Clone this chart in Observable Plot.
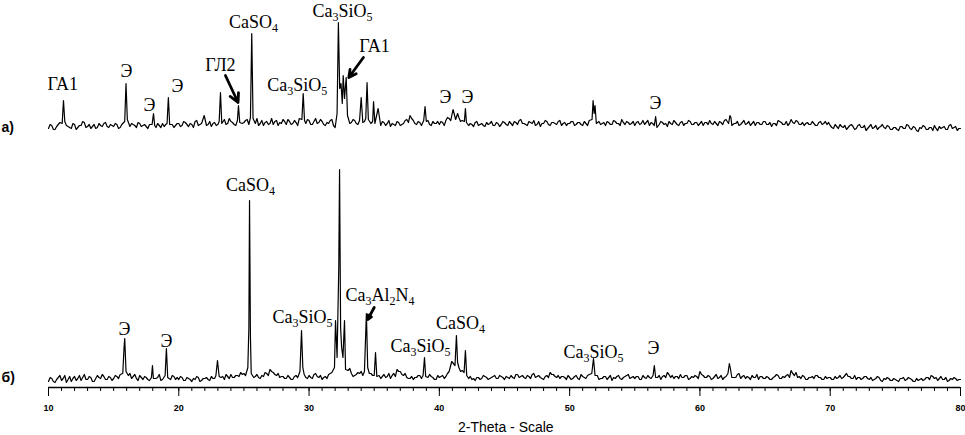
<!DOCTYPE html>
<html><head><meta charset="utf-8">
<script src="https://cdn.jsdelivr.net/npm/d3@7"></script>
<script src="https://cdn.jsdelivr.net/npm/@observablehq/plot@0.6"></script>
<style>body{margin:0;background:#fff;} #chart svg{display:block;}</style>
</head><body><div id="chart"></div>
<script>
// sampling grid of the hand-read background (2θ, degrees):
// "base" values at 10, 10.25, …; "mid" values at 10.125, 10.375, …
const gridStart = 10, gridStep = 0.25;

// pattern а) — background intensity
const baseA = [
  5,8,4,9,6,10,7,5,9,6,8,11,7,5,9,6,8,10,7,9,
  7,9,6,8,12,7,9,6,10,8,7,9,11,6,8,10,9,7,9,8,
  10,8,11,7,9,12,8,10,13,9,7,11,9,12,14,10,12,9,13,8,
  11,14,9,12,15,10,8,12,10,9,13,11,14,9,12,10,11,15,12,10,
  13,9,15,11,12,8,10,14,6,3,12,14,16,11,13,9,14,12,15,10,
  12,9,8,11,10,7,9,12,8,10,14,18,13,9,11,8,10,9,12,10,
  9,11,13,15,18,14,16,13,10,8,9,11,8,10,7,9,12,8,10,9,
  11,8,10,12,9,14,10,8,11,13,9,7,10,12,8,11,9,13,10,8,
  10,12,9,11,8,10,13,11,9,12,10,8,11,9,12,10,14,9,11,10,
  8,12,10,9,13,11,8,10,12,9,7,10,13,9,11,8,10,12,9,11,
  10,8,11,13,9,10,12,9,14,11,13,10,8,11,9,12,10,8,11,9,
  12,9,7,10,13,11,9,8,14,10,12,9,8,11,9,10,8,12,10,9,
  8,5,7,9,6,4,8,7,5,9,6,3,7,5,8,6,9,5,7,4,
  6,3,7,5,8,4,6,2,5,7,4,6,8,3,5,7,4,9,6,3,
  5
];
const midA = [
  9,4,7,11,5,8,6,10,4,8,12,6,9,7,5,10,7,11,6,8,
  10,5,9,7,6,10,8,11,7,9,5,12,8,10,6,7,11,8,6,10,
  7,12,9,10,6,13,9,11,8,12,10,8,13,10,9,15,11,8,11,10,
  13,9,12,10,8,13,11,9,15,12,8,10,12,14,9,13,8,12,10,14,
  9,12,10,14,9,11,13,8,5,9,11,12,10,14,10,13,11,9,13,12,
  9,11,12,8,13,10,8,11,9,13,11,15,10,12,8,11,13,8,10,12,
  12,8,16,13,15,17,12,11,13,10,7,12,9,8,11,10,8,11,7,12,
  9,12,8,11,13,10,9,12,10,8,12,10,13,9,11,10,12,8,11,10,
  12,8,11,9,12,8,11,10,13,9,11,12,9,13,10,8,11,12,9,12,
  11,9,13,11,8,10,12,9,11,10,12,9,11,8,12,10,13,9,11,8,
  12,11,9,10,12,8,11,13,9,12,10,12,9,13,10,8,12,11,9,12,
  9,11,10,8,12,9,12,10,11,13,9,11,10,9,12,8,11,9,12,11,
  6,9,5,7,8,6,9,4,8,6,8,5,9,6,4,7,6,8,4,6,
  4,7,5,9,5,7,3,6,8,4,6,3,5,7,6,4,8,5,7,5
];
// pattern а) — diffraction peaks [2θ, intensity]
const peaksA = [
  [11.05,10],[11.15,33],[11.25,12],
  [15.85,12],[15.95,50],[16.05,14],
  [17.95,9],[18.06,20],[18.15,8],
  [19.1,10],[19.2,36],[19.3,9],
  [21.95,18],
  [23.1,12],[23.2,41],[23.3,10],
  [24.5,13],[24.58,28],[24.68,11],
  [25.5,16],[25.6,100],[25.7,15],
  [29.45,14],[29.55,40],[29.65,13],
  [32.15,20],[32.25,111],[32.35,45],[32.45,50],[32.55,30],[32.62,58],[32.72,35],[32.85,56],[32.95,18],
  [34.0,36],
  [34.35,15],[34.45,51],[34.55,14],
  [34.88,12],[34.95,32],[35.05,10],
  [35.3,25],
  [38.8,13],[38.9,27],[39.0,12],
  [41.05,24],[41.4,20],
  [41.92,12],[42.0,25],[42.08,11],
  [51.72,14],[51.8,33],[51.88,20],[51.95,28],[52.05,10],
  [56.5,8],[56.6,17],[56.7,6],
  [62.2,10],[62.3,18],[62.38,16],[62.45,8]
];

// pattern б) — background intensity
const baseB = [
  6,9,5,10,7,12,8,6,11,9,7,13,8,10,6,12,9,11,8,10,
  9,11,13,16,14,14,11,9,12,8,10,7,11,9,13,8,11,9,12,8,
  8,10,7,9,6,8,10,7,9,8,11,9,12,10,8,11,13,10,12,15,
  14,16,12,10,13,9,11,14,18,15,12,10,11,9,10,8,12,14,11,10,
  12,9,14,10,8,11,13,15,16,20,14,18,17,14,12,15,16,13,11,14,
  12,10,9,13,11,9,14,18,16,12,10,9,8,10,12,11,9,13,10,8,
  10,12,11,16,18,14,20,17,12,9,8,7,10,9,11,8,10,12,9,11,
  8,10,12,9,13,11,10,12,9,14,11,10,8,12,15,13,10,9,11,8,
  10,9,12,8,11,9,13,15,10,8,9,11,10,7,9,12,8,11,13,10,
  9,11,8,10,12,9,11,10,8,12,15,10,9,11,13,10,12,9,10,11,
  16,12,10,11,9,13,10,8,11,9,12,10,14,11,9,10,12,10,8,11,
  9,10,8,11,12,9,10,13,17,12,10,9,11,8,10,9,12,10,8,9,
  10,8,9,12,10,14,11,9,8,10,9,11,8,7,9,10,6,8,9,7,
  8,6,9,7,10,8,6,7,9,8,10,12,9,7,11,8,6,9,10,7,
  8
];
const midB = [
  10,6,8,12,9,5,11,9,7,12,10,8,11,6,9,10,13,8,11,7,
  12,9,15,11,12,9,13,7,10,11,8,12,9,10,7,12,10,8,11,10,
  11,7,10,8,9,11,6,9,10,7,9,12,8,11,13,9,10,12,11,13,
  12,13,15,11,10,12,15,12,16,13,14,11,9,12,8,11,10,12,13,9,
  10,13,11,12,10,9,14,12,18,15,17,14,19,11,13,14,12,15,14,12,
  9,12,11,10,14,12,11,16,13,14,9,11,10,12,9,13,10,11,8,12,
  11,9,14,13,15,19,16,14,10,11,9,10,8,12,10,9,11,9,12,10,
  11,9,10,13,10,12,9,11,13,10,12,9,11,10,13,11,12,11,10,12,
  8,11,9,13,10,12,10,11,12,9,11,8,12,10,11,9,10,12,9,11,
  11,8,12,9,10,11,8,12,11,10,13,12,11,9,10,12,8,11,12,9,
  13,10,12,8,11,9,12,10,9,12,10,13,9,12,11,8,10,13,11,9,
  11,8,10,13,9,11,12,10,14,15,11,12,8,10,11,12,10,8,11,10,
  8,11,10,9,12,11,9,12,10,8,11,9,10,8,11,7,9,10,7,9,
  7,9,10,8,9,6,9,8,7,10,8,11,10,9,8,10,7,8,9,8
];
// pattern б) — diffraction peaks [2θ, intensity]
const peaksB = [
  [15.7,14],[15.8,40],[15.85,49],[15.95,16],
  [17.9,10],[17.98,22],[18.05,9],
  [18.95,12],[19.05,39],[19.15,10],
  [22.85,12],[22.97,27],[23.1,11],
  [25.3,20],[25.38,60],[25.43,187],[25.5,50],[25.56,14],
  [29.3,16],[29.42,57],[29.52,20],
  [31.95,20],[32.03,67],[32.15,30],[32.28,120],[32.34,218],[32.42,60],[32.5,40],[32.6,30],[32.72,67],[32.8,18],
  [34.25,16],[34.4,74],[34.5,20],
  [35.0,12],[35.1,35],[35.2,11],
  [38.75,12],[38.86,30],[38.95,11],
  [40.95,26],
  [41.2,22],[41.31,52],[41.4,25],
  [41.9,15],[42.0,37],[42.1,12],
  [51.7,14],[51.83,29],[51.95,12],
  [56.4,12],[56.5,22],[56.6,10],
  [62.15,14],[62.26,24],[62.35,18],[62.45,10]
];

// vertical offset of pattern а) above pattern б)
const offsetA = 254;

// phase labels: [text, 2θ, intensity]
const labelsA = [
  ["ГА1",11.1,49],["Э",15.99,62],["Э",17.75,28],["Э",19.9,47],["ГЛ2",23.2,68],
  ["CaSO₄",25.73,111],["Ca₃SiO₅",29.1,48],["Ca₃SiO₅",32.56,122],["ГА1",35.02,87],
  ["Э",40.47,36],["Э",42.16,36],["Э",56.58,30]
];
const labelsB = [
  ["Э",15.83,58],["Э",19.06,46],["CaSO₄",25.5,202],["Ca₃SiO₅",29.49,70],
  ["Ca₃Al₂N₄",35.45,92],["Ca₃SiO₅",38.55,41],["CaSO₄",41.62,64],
  ["Ca₃SiO₅",51.83,35],["Э",56.43,39]
];
// arrows: [2θ from, intensity from, 2θ to, intensity to]
const arrowsA = [[23.58,58,24.55,31],[34.17,76,33.05,56]];
const arrowsB = [[35.0,80,34.5,68]];

const panelNames = ["а)","б)"];
const xTitle = "2-Theta - Scale";
const xMajorTicks = d3.range(10, 81, 10);
const xMinorTicks = d3.range(10, 81, 1);

function build(base, mid, peaks, off) {
  const pts = base.map((v, i) => ({t: gridStart + i * gridStep, v}))
    .concat(mid.map((v, i) => ({t: gridStart + gridStep / 2 + i * gridStep, v})));
  const keep = pts.filter(p => !peaks.some(([t]) => Math.abs(t - p.t) < 0.1));
  return keep.concat(peaks.map(([t, v]) => ({t, v})))
    .sort((a, b) => a.t - b.t)
    .map(d => ({t: d.t, y: d.v + off}));
}
const dataA = build(baseA, midA, peaksA, offsetA);
const dataB = build(baseB, midB, peaksB, 0);
const labels = labelsA.map(([s,t,v]) => ({s,t,y:v+offsetA}))
  .concat(labelsB.map(([s,t,v]) => ({s,t,y:v})));
const arrows = arrowsA.map(([a,b,c,d]) => ({x1:a,y1:b+offsetA,x2:c,y2:d+offsetA}))
  .concat(arrowsB.map(([a,b,c,d]) => ({x1:a,y1:b,x2:c,y2:d})));

const chart = Plot.plot({
  width: 965, height: 435,
  marginLeft: 48, marginRight: 5, marginTop: 0, marginBottom: 48,
  x: {domain: [10, 80]},
  y: {domain: [0, 387], axis: null},
  style: {background: "#fff"},
  marks: [
    Plot.ruleY([0], {stroke: "#000", strokeWidth: 1.5}),
    Plot.axisX({ticks: xMinorTicks, tickSize: 4, tickFormat: () => "", stroke: "#000", strokeOpacity: 1}),
    Plot.axisX({ticks: xMajorTicks, tickSize: 9, tickPadding: 8, stroke: "#000", strokeOpacity: 1,
      fontSize: 9, fontWeight: "bold", fontFamily: "Liberation Sans, Arial, sans-serif", fill: "#000", label: null}),
    Plot.line(dataA, {x: "t", y: "y", stroke: "#000", strokeWidth: 1.2}),
    Plot.line(dataB, {x: "t", y: "y", stroke: "#000", strokeWidth: 1.2}),
    Plot.text(labels, {x: "t", y: "y", text: "s", fontSize: 18, fill: "#000",
      fontFamily: "Liberation Serif, Times New Roman, serif", className: "phase"}),
    Plot.arrow(arrows, {x1: "x1", y1: "y1", x2: "x2", y2: "y2", stroke: "#000", strokeWidth: 2.8, headLength: 12, headAngle: 55}),
    Plot.text([{s: panelNames[0], y: offsetA + 6}, {s: panelNames[1], y: 10}],
      {x: () => 10, y: "y", text: "s", dx: -47, textAnchor: "start", fontSize: 14, fontWeight: "bold",
       fontFamily: "Liberation Sans, Arial, sans-serif", fill: "#000"}),
    Plot.text([xTitle], {x: () => 45.1, y: () => -40, text: d => d, fontSize: 14,
      fontFamily: "Liberation Sans, Arial, sans-serif", fill: "#000"})
  ]
});
document.getElementById("chart").appendChild(chart);

// render Unicode subscript digits as real subscripts
const subMap = {"₀":"0","₁":"1","₂":"2","₃":"3","₄":"4","₅":"5","₆":"6","₇":"7","₈":"8","₉":"9"};
chart.querySelectorAll(".phase text").forEach(el => {
  const s = el.textContent;
  if (!/[₀-₉]/.test(s)) return;
  el.textContent = "";
  for (const ch of s) {
    const ts = document.createElementNS("http://www.w3.org/2000/svg", "tspan");
    if (subMap[ch]) {
      ts.textContent = subMap[ch];
      ts.setAttribute("font-size", "12");
      ts.setAttribute("baseline-shift", "-4");
    } else ts.textContent = ch;
    el.appendChild(ts);
  }
});
</script>
</body></html>
